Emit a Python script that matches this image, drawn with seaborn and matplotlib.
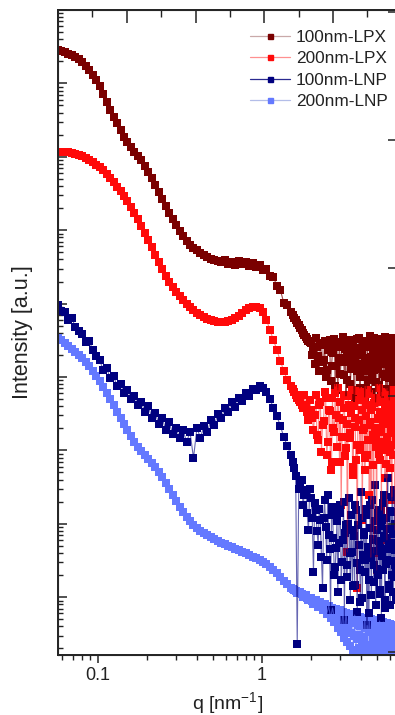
import numpy as np
import pandas as pd
import matplotlib
matplotlib.use("Agg")
import matplotlib.pyplot as plt
import seaborn as sns
from matplotlib.ticker import LogLocator, MultipleLocator, FixedLocator, NullFormatter
from matplotlib.lines import Line2D

# ---------------- data ----------------
q_values = [
    0.0570, 0.05985, 0.06284, 0.06599, 0.06928, 0.07275, 0.07639, 0.08021, 0.08422, 0.08843,
    0.09285, 0.09749, 0.1024, 0.1075, 0.1129, 0.1185, 0.1244, 0.1307, 0.1372, 0.1440,
    0.1512, 0.1588, 0.1667, 0.1751, 0.1838, 0.1930, 0.2027, 0.2128, 0.2235, 0.2346,
    0.2464, 0.2587, 0.2716, 0.2852, 0.2994, 0.3144, 0.3301, 0.3466, 0.3640, 0.3822,
    0.4013, 0.4214, 0.4424, 0.4645, 0.4878, 0.5122, 0.5378, 0.5647, 0.5929, 0.6225,
    0.6537, 0.6863, 0.7207, 0.7567, 0.7945, 0.8342, 0.8760, 0.9198, 0.9657, 1.014,
    1.065, 1.118, 1.174, 1.233, 1.294, 1.359, 1.427,
    1.50, 1.57, 1.64, 1.71, 1.78, 1.85, 1.92, 1.99, 2.06, 2.13,
    2.20, 2.27, 2.34, 2.41, 2.48, 2.55, 2.62, 2.69, 2.76, 2.83,
    2.90, 2.97, 3.04, 3.11, 3.18, 3.25, 3.32, 3.39, 3.46, 3.53,
    3.60, 3.67, 3.74, 3.81, 3.88, 3.95, 4.02, 4.09, 4.16, 4.23,
    4.30, 4.37, 4.44, 4.51, 4.58, 4.65, 4.72, 4.79, 4.86, 4.93,
    5.00, 5.07, 5.14, 5.21, 5.28, 5.35, 5.42, 5.49, 5.56, 5.63,
    5.70, 5.77, 5.84, 5.91, 5.98, 6.05, 6.12, 6.19, 6.26, 6.33,
    6.40, 6.47, 6.54, 6.61,
]
# second set of high-q points lying between the ones above
q_values_b = [
    1.535, 1.605, 1.675, 1.745, 1.815, 1.885, 1.955, 2.025, 2.095, 2.165,
    2.235, 2.305, 2.375, 2.445, 2.515, 2.585, 2.655, 2.725, 2.795, 2.865,
    2.935, 3.005, 3.075, 3.145, 3.215, 3.285, 3.355, 3.425, 3.495, 3.565,
    3.635, 3.705, 3.775, 3.845, 3.915, 3.985, 4.055, 4.125, 4.195, 4.265,
    4.335, 4.405, 4.475, 4.545, 4.615, 4.685, 4.755, 4.825, 4.895, 4.965,
    5.035, 5.105, 5.175, 5.245, 5.315, 5.385, 5.455, 5.525, 5.595, 5.665,
    5.735, 5.805, 5.875, 5.945, 6.015, 6.085, 6.155, 6.225, 6.295, 6.365,
    6.435, 6.505, 6.575,
]

intensity_100nm_lpx = [
    2.85e7, 2.76e7, 2.68e7, 2.51e7, 2.44e7, 2.29e7, 2.15e7, 1.96e7, 1.73e7, 1.52e7,
    1.30e7, 1.11e7, 9.21e6, 7.17e6, 5.58e6, 4.34e6, 3.49e6, 2.89e6, 2.32e6, 1.86e6,
    1.59e6, 1.36e6, 1.16e6, 1.03e6, 9.05e5, 7.49e5, 6.21e5, 5.14e5, 4.13e5, 3.32e5,
    2.66e5, 2.14e5, 1.72e5, 1.42e5, 1.18e5, 9.75e4, 8.34e4, 7.13e4, 6.29e4, 5.72e4,
    5.37e4, 4.89e4, 4.59e4, 4.31e4, 4.05e4, 3.93e4, 3.80e4, 3.69e4, 3.93e4, 3.46e4,
    3.69e4, 3.36e4, 3.80e4, 3.46e4, 3.69e4, 3.25e4, 3.57e4, 3.15e4, 3.36e4, 2.88e4,
    2.97e4, 2.38e4, 2.30e4, 1.74e4, 1.53e4, 1.02e4, 9.57e3,
    7.68e3, 6.36e3, 5.44e3, 4.65e3, 3.98e3, 3.51e3, 3.09e3, 2.91e3, 2.33e3, 3.40e3,
    1.93e3, 2.73e3, 1.60e3, 3.09e3, 1.25e3, 2.48e3, 8.82e2, 2.19e3, 3.29e3, 1.41e3,
    6.65e2, 2.55e3, 1.81e3, 3.51e3, 1.07e3, 5.51e2, 2.19e3, 3.19e3, 8.03e2, 1.60e3,
    2.73e3, 5.01e2, 1.98e3, 1.21e3, 3.40e3, 7.08e2, 2.33e3, 1.46e3, 3.00e3, 5.34e2,
    1.76e3, 2.64e3, 9.10e2, 1.60e3, 3.62e3, 6.25e2, 2.19e3, 1.25e3, 2.82e3, 4.56e2,
    1.87e3, 3.29e3, 7.78e2, 1.55e3, 2.48e3, 5.69e2, 3.09e3, 1.10e3, 1.98e3, 3.51e3,
    6.86e2, 1.65e3, 2.64e3, 9.69e2, 4.86e2, 2.91e3, 1.41e3, 2.19e3, 8.03e2, 3.40e3,
    1.21e3, 1.93e3, 6.05e2, 2.55e3,
]
intensity_100nm_lpx_b = [
    6.99e3, 5.98e3, 5.10e3, 4.37e3, 3.72e3, 3.29e3, 3.00e3,
    2.0e3, 1.5e3, 2.6e3, 1.2e3, 2.9e3, 1.7e3, 1.0e3, 2.3e3, 3.2e3, 1.4e3,
    2.1e3, 7.5e2, 2.7e3, 1.8e3, 1.1e3, 3.0e3, 1.6e3, 2.4e3, 9.0e2, 1.9e3,
    2.8e3, 1.3e3, 2.2e3, 6.0e2, 1.7e3, 3.3e3, 1.5e3, 2.5e3, 1.0e3, 2.0e3,
    3.1e3, 1.2e3, 1.8e3, 7.0e2, 2.6e3, 1.4e3, 2.9e3, 1.9e3, 1.1e3, 2.3e3,
    3.4e3, 1.6e3, 8.5e2, 2.1e3, 1.3e3, 2.7e3, 1.7e3, 5.5e2, 2.4e3, 3.0e3,
    1.5e3, 1.0e3, 2.2e3, 1.8e3, 6.5e2, 2.8e3, 1.4e3, 2.0e3, 3.2e3, 1.2e3,
    2.5e3, 9.5e2, 1.9e3, 2.6e3, 1.6e3, 2.1e3,
]

intensity_200nm_lpx = [
    1.16e6, 1.16e6, 1.16e6, 1.16e6, 1.13e6, 1.09e6, 1.06e6, 1.03e6, 9.63e5, 9.05e5,
    8.50e5, 7.73e5, 7.26e5, 6.61e5, 5.83e5, 5.14e5, 4.54e5, 3.88e5, 3.42e5, 2.92e5,
    2.50e5, 2.07e5, 1.72e5, 1.42e5, 1.14e5, 9.16e4, 7.35e4, 5.90e4, 4.59e4, 3.69e4,
    2.97e4, 2.38e4, 1.97e4, 1.68e4, 1.44e4, 1.27e4, 1.12e4, 9.88e3, 8.99e3, 8.18e3,
    7.45e3, 6.99e3, 6.57e3, 6.17e3, 5.98e3, 5.79e3, 5.61e3, 5.61e3, 5.61e3, 5.79e3,
    5.98e3, 6.36e3, 6.78e3, 7.45e3, 8.18e3, 8.71e3, 8.99e3, 8.99e3, 8.71e3, 7.68e3,
    5.98e3, 4.37e3, 3.19e3, 2.33e3, 1.65e3, 1.21e3, 9.10e2,
    7.54e2, 6.25e2, 5.17e2, 4.56e2, 3.78e2, 4.15e2, 2.59e2, 3.55e2, 1.90e2, 5.69e2,
    1.39e2, 4.56e2, 2.22e2, 6.25e2, 86.6, 3.55e2, 54.1, 5.17e2, 1.78e2, 3.04e2,
    7.08e2, 69.5, 18.0, 2.59e2, 5.69e2, 1.08e2, 4.13, 4.15e2, 1.48e2, 6.65e2,
    46.2, 2.76e2, 74.0, 1.33, 4.86e2, 1.18e2, 6.25e2, 11.3, 2.02e2, 54.1,
    4.15e2, 86.6, 6.65e2, 24.7, 2.22e2, 3.55e2, 63.2, 4.00, 5.17e2, 1.39e2,
    2.34, 2.76e2, 7.08e2, 74.0, 1.90e2, 15.4, 4.56e2, 1.01e2, 6.25e2, 42.0,
    2.59e2, 6.01, 3.78e2, 1.18e2, 5.69e2, 57.6, 2.22e2, 21.1, 6.65e2, 86.6,
    3.04e2, 8.23, 4.86e2, 1.39e2,
]
intensity_200nm_lpx_b = [
    6.86e2, 5.69e2, 4.86e2, 4.15e2, 5.69e2, 3.34e2, 4.86e2, 2.76e2,
    3.0e2, 1.6e2, 4.2e2, 95, 2.5e2, 5.2e2, 1.3e2, 3.4e2, 70, 2.0e2,
    6.0e2, 1.1e2, 2.8e2, 4.5e2, 1.5e2, 3.8e2, 85, 2.3e2, 5.5e2, 1.7e2,
    3.2e2, 60, 4.0e2, 2.1e2, 1.2e2, 6.4e2, 2.6e2, 1.0e2, 3.6e2, 1.9e2,
    4.8e2, 78, 2.9e2, 1.4e2, 5.8e2, 2.4e2, 3.5, 3.9e2, 1.6e2, 4.4e2,
    2.0e2, 1.1e2, 5.0e2, 2.7e2, 90, 3.3e2, 1.8e2, 6.2e2, 2.3e2, 1.3e2,
    4.1e2, 65, 3.0e2, 1.5e2, 5.3e2, 2.5e2, 95, 3.7e2, 1.9e2, 4.6e2,
    1.2e2, 2.8e2, 5.6e2, 1.7e2, 3.5e2,
]

intensity_100nm_lnp = [
    9.57e3, 7.90e3, 7.68e3, 5.98e3, 6.36e3, 4.80e3, 4.23e3, 3.85e3, 3.00e3, 3.09e3,
    2.33e3, 1.93e3, 1.70e3, 1.25e3, 1.33e3, 9.69e2, 1.03e3, 7.54e2, 8.03e2, 6.05e2,
    6.65e2, 5.01e2, 5.51e2, 4.15e2, 4.56e2, 3.34e2, 4.03e2, 2.76e2, 3.23e2, 2.29e2,
    2.76e2, 1.90e2, 2.44e2, 1.67e2, 2.02e2, 1.48e2, 1.90e2, 1.30e2, 1.78e2, 78.8,
    2.02e2, 1.48e2, 2.15e2, 1.78e2, 2.59e2, 2.22e2, 3.13e2, 2.76e2, 3.78e2, 3.34e2,
    4.56e2, 3.90e2, 5.17e2, 4.71e2, 6.05e2, 5.51e2, 6.86e2, 6.65e2, 7.54e2, 7.08e2,
    6.25e2, 5.01e2, 3.78e2, 2.94e2, 2.15e2, 1.52e2, 1.15e2,
    86.6, 57.6, 0.230, 37.1, 18.0, 28.9, 8.23, 22.5, 2.19, 15.4,
    5.14, 11.3, 1.33, 21.1, 3.21, 7.04, 0.669, 13.2, 2.00, 4.68,
    1.18, 18.0, 1.72, 6.01, 0.489, 9.63, 2.75, 22.5, 0.916, 4.13,
    8.23, 1.47, 15.4, 0.629, 5.14, 2.34, 27.1, 0.975, 7.04, 3.21,
    13.2, 0.418, 4.40, 1.72, 18.0, 1.07, 6.01, 2.75, 33.7, 0.783,
    8.23, 2.00, 15.4, 1.25, 4.68, 0.521, 11.3, 2.34, 24.7, 0.916,
    6.41, 3.21, 42.0, 1.47, 5.14, 0.783, 14.5, 2.00, 8.23, 1.18,
    28.9, 2.75, 4.40, 0.916,
]
intensity_100nm_lnp_b = [
    70, 45, 30, 40, 25, 14, 30, 12, 19, 8.0,
    16, 3.5, 12, 9.0, 25, 4.5, 17, 6.5, 2.6, 11,
    5.5, 14, 3.0, 20, 7.5, 1.9, 10, 4.0, 13, 1.4,
    6.8, 18, 2.9, 9.5, 5.2, 0.85, 12, 3.8, 7.8, 2.2,
    16, 4.9, 0.6, 8.8, 3.4, 21, 6.2, 1.6, 11, 4.2,
    2.4, 14, 5.8, 1.1, 9.2, 3.6, 19, 6.9, 0.72, 12,
    2.8, 8.5, 4.6, 1.3, 15, 5.5, 3.1, 23, 7.2, 1.9,
    10, 4.4, 2.5,
]

intensity_200nm_lnp = [
    3.40e3, 3.19e3, 2.91e3, 2.64e3, 2.41e3, 2.19e3, 1.98e3, 1.81e3, 1.60e3, 1.41e3,
    1.21e3, 1.03e3, 8.82e2, 7.31e2, 6.05e2, 5.01e2, 4.15e2, 3.34e2, 2.76e2, 2.29e2,
    1.90e2, 1.57e2, 1.30e2, 1.11e2, 98.1, 86.6, 76.3, 67.3, 59.4, 50.8,
    43.4, 36.0, 29.8, 24.7, 20.4, 16.9, 14.5, 12.4, 10.9, 9.63,
    8.77, 7.98, 7.49, 7.04, 6.61, 6.21, 5.83, 5.48, 5.31, 4.98,
    4.83, 4.54, 4.40, 4.13, 4.00, 3.76, 3.53, 3.42, 3.21, 3.02,
    2.83, 2.58, 2.34, 2.14, 1.88, 1.66, 1.51,
    1.33, 1.25, 1.14, 1.18, 1.01, 1.07, 0.916, 0.975, 0.808, 0.916,
    0.735, 0.860, 0.669, 0.808, 0.590, 0.759, 0.521, 0.713, 0.459, 0.691,
    0.380, 0.669, 0.336, 0.629, 0.278, 0.609, 0.245, 0.590, 0.216, 0.554,
    0.191, 0.572, 0.174, 0.521, 0.203, 0.537, 0.163, 0.505, 0.230, 0.489,
    0.179, 0.521, 0.210, 0.474, 0.158, 0.505, 0.261, 0.459, 0.168, 0.489,
    0.223, 0.445, 0.148, 0.474, 0.245, 0.431, 0.179, 0.459, 0.203, 0.418,
    0.153, 0.445, 0.238, 0.405, 0.168, 0.431, 0.216, 0.393, 0.144, 0.418,
    0.253, 0.380, 0.163, 0.405,
]
intensity_200nm_lnp_b = [
    1.29, 1.20, 1.16, 1.10, 1.04, 0.99, 0.95, 0.89, 0.86, 0.83,
    0.79, 0.76, 0.72, 0.70, 0.66, 0.64, 0.60, 0.62, 0.55, 0.58,
    0.50, 0.54, 0.44, 0.52, 0.40, 0.49, 0.36, 0.47, 0.33, 0.45,
    0.30, 0.44, 0.27, 0.42, 0.31, 0.40, 0.25, 0.43, 0.29, 0.38,
    0.22, 0.41, 0.34, 0.37, 0.20, 0.39, 0.28, 0.35, 0.24, 0.40,
    0.32, 0.36, 0.21, 0.38, 0.27, 0.34, 0.19, 0.37, 0.30, 0.35,
    0.23, 0.36, 0.26, 0.33, 0.18, 0.38, 0.29, 0.34, 0.21, 0.36,
    0.27, 0.32, 0.20,
]

series_names = ["100nm-LPX", "200nm-LPX", "100nm-LNP", "200nm-LNP"]
series_values = [intensity_100nm_lpx, intensity_200nm_lpx, intensity_100nm_lnp, intensity_200nm_lnp]
series_values_b = [intensity_100nm_lpx_b, intensity_200nm_lpx_b, intensity_100nm_lnp_b, intensity_200nm_lnp_b]
x_tick_values = [0.1, 1]
x_tick_labels = ["0.1", "1"]

marker_colors = {"100nm-LPX": "#7a0000", "200nm-LPX": "#ff0a0a",
                 "100nm-LNP": "#00007f", "200nm-LNP": "#6479ff"}
legend_line_colors = {"100nm-LPX": "#c9a9a9", "200nm-LPX": "#ff9090",
                      "100nm-LNP": "#2a2a90", "200nm-LNP": "#b3bde8"}
line_alpha = {"100nm-LPX": 0.7, "200nm-LPX": 0.5, "100nm-LNP": 0.6, "200nm-LNP": 0.6}

# ---------------- style ----------------
sns.set_style("ticks")
plt.rcParams["font.family"] = ["Liberation Sans", "DejaVu Sans"]
plt.rcParams["mathtext.fontset"] = "custom"
plt.rcParams["mathtext.rm"] = "Liberation Sans"
plt.rcParams["mathtext.it"] = "Liberation Sans:italic"
plt.rcParams["mathtext.bf"] = "Liberation Sans:bold"

frames = []
for name, vals, vals_b in zip(series_names, series_values, series_values_b):
    frames.append(pd.DataFrame({"q": q_values, "I": vals, "sample": name}))
    frames.append(pd.DataFrame({"q": q_values_b, "I": vals_b, "sample": name}))
df = pd.concat(frames, ignore_index=True).sort_values(["sample", "q"])

W, H = 395, 715
fig = plt.figure(figsize=(W / 100, H / 100), dpi=100)
ax = fig.add_axes([58 / W, 60 / H, 339 / W, 645 / H])
ax.set_xscale("log")
ax.set_yscale("log")

draw_order = ["100nm-LPX", "200nm-LPX", "200nm-LNP", "100nm-LNP"]
for name in draw_order:
    sub = df[df["sample"] == name]
    sns.lineplot(data=sub, x="q", y="I", color=marker_colors[name], linewidth=0.8,
                 alpha=line_alpha[name], estimator=None, sort=True, legend=False, ax=ax)
    sns.scatterplot(data=sub, x="q", y="I", color=marker_colors[name], marker="s",
                    s=28, linewidth=0, legend=False, ax=ax)

ax.set_xlim(0.05703, 6.657)
ax.set_ylim(0.1631, 1e8)

# x axis (bottom)
ax.xaxis.set_major_locator(FixedLocator(x_tick_values))
ax.set_xticklabels(x_tick_labels)
ax.xaxis.set_minor_locator(LogLocator(base=10, subs=np.arange(2, 10), numticks=50))
ax.xaxis.set_minor_formatter(NullFormatter())
ax.tick_params(axis="x", which="major", direction="out", length=6, width=1.1,
               labelsize=13, pad=2.5, top=False, color="#222222", labelcolor="#222222")
ax.tick_params(axis="x", which="minor", direction="out", length=3.6, width=1.0,
               top=False, color="#222222")

# y axis (left, no labels)
ax.yaxis.set_major_locator(LogLocator(base=10, numticks=50))
ax.yaxis.set_minor_locator(LogLocator(base=10, subs=np.arange(2, 10), numticks=50))
ax.yaxis.set_minor_formatter(NullFormatter())
ax.tick_params(axis="y", which="major", direction="in", length=6.5, width=1.1,
               labelleft=False, right=False, color="#222222")
ax.tick_params(axis="y", which="minor", direction="in", length=3.6, width=1.0,
               right=False, color="#222222")

for sp in ax.spines.values():
    sp.set_linewidth(1.2)
    sp.set_color("#222222")

# top axis: linear ticks only
ax_top = ax.twiny()
ax_top.set_xlim(0, 4.93)
ax_top.xaxis.set_major_locator(MultipleLocator(1))
ax_top.xaxis.set_minor_locator(MultipleLocator(0.5))
ax_top.tick_params(axis="x", which="major", direction="in", length=9, width=1.1,
                   top=True, labeltop=False, bottom=False, labelbottom=False, color="#222222")
ax_top.tick_params(axis="x", which="minor", direction="in", length=5, width=1.0,
                   top=True, bottom=False, color="#222222")
for sp in ax_top.spines.values():
    sp.set_linewidth(1.2)
    sp.set_color("#222222")

# right axis: linear ticks only
ax_right = ax.twinx()
ax_right.set_ylim(-0.023, 5.016)
ax_right.yaxis.set_major_locator(MultipleLocator(1))
ax_right.tick_params(axis="y", which="major", direction="in", length=6.5, width=1.1,
                     right=True, labelright=False, left=False, labelleft=False, color="#222222")
ax_right.tick_params(axis="y", which="minor", right=False, left=False)

ax.set_xlabel("q [nm$^{-1}$]", fontsize=14, color="#222222")
ax.xaxis.set_label_coords(0.5, -0.054)
ax.set_ylabel("Intensity [a.u.]", fontsize=15.5, color="#222222")
ax.yaxis.set_label_coords(-0.074, 0.5)

handles = [Line2D([0], [0], color=legend_line_colors[n], lw=0.9, marker="s", markersize=3.6,
                  markerfacecolor=marker_colors[n], markeredgecolor=marker_colors[n])
           for n in series_names]
ax_right.legend(handles, series_names, loc="upper left",
                bbox_to_anchor=(250 / W, 1 - 30 / H), bbox_transform=fig.transFigure,
                frameon=False, fontsize=12.4, handlelength=2.3, handletextpad=0.35,
                labelspacing=0.36, borderpad=0, borderaxespad=0,
                labelcolor="#222222")

fig.savefig("out.png", dpi=100)
